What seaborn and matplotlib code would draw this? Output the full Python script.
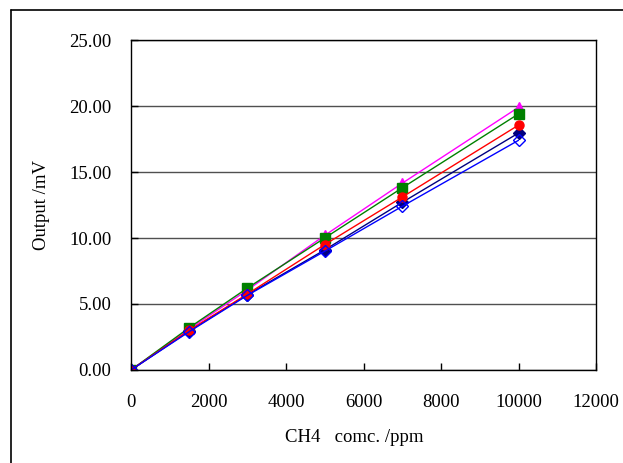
import numpy as np
import pandas as pd
import seaborn as sns
import matplotlib
matplotlib.use("Agg")
from matplotlib import pyplot as plt
from matplotlib.lines import Line2D

# CH4 concentration (ppm)
conc = [0, 1500, 3000, 5000, 7000, 10000]

# sensor outputs (mV)
out_magenta = [0.0, 3.10, 6.05, 10.20, 14.15, 19.90]
out_green = [0.0, 3.20, 6.20, 10.00, 13.80, 19.40]
out_navy = [0.0, 2.95, 5.70, 9.10, 12.70, 17.95]
out_red = [0.0, 3.00, 5.75, 9.50, 13.10, 18.55]
out_blue = [0.0, 2.90, 5.65, 9.00, 12.40, 17.40]

series = [
    ("s1", out_magenta, "#FF00FF", "^", "#FF00FF"),
    ("s2", out_green, "#008000", "s", "#008000"),
    ("s3", out_navy, "#000080", "D", "#000080"),
    ("s4", out_red, "#FF0000", "o", "#FF0000"),
    ("s5", out_blue, "#0000FF", "D", "none"),
]

sns.set_style("white")
plt.rcParams['font.family'] = ['Liberation Serif', 'DejaVu Serif']
plt.rcParams['text.color'] = 'black'
plt.rcParams['axes.labelcolor'] = 'black'

fig = plt.figure(figsize=(6.23, 4.63), dpi=100)
ax = fig.add_axes([131 / 623, 1 - 370 / 463, (596 - 131) / 623, (370 - 40) / 463])

for name, vals, col, mk, fc in series:
    df = pd.DataFrame({"x": conc, "y": vals})
    sns.lineplot(data=df, x="x", y="y", ax=ax, color=col, linewidth=1.0,
                 marker=mk, markersize=6.5, markerfacecolor=fc,
                 markeredgecolor=col, markeredgewidth=1.0)

ax.set_xlim(0, 12000)
ax.set_ylim(0, 25)
ax.set_xticks(np.arange(0, 12001, 2000))
ax.set_yticks(np.arange(0, 25.01, 5))
ax.set_yticklabels([f"{v:.2f}" for v in np.arange(0, 25.01, 5)])
ax.yaxis.grid(True, color="#505050", linewidth=1.0)
ax.set_axisbelow(True)
ax.tick_params(axis="both", direction="in", length=5, width=1, colors="black",
               labelsize=13.5, left=True, bottom=True)
ax.tick_params(axis="x", pad=17)
ax.tick_params(axis="y", pad=14)
for sp in ax.spines.values():
    sp.set_color("black")
    sp.set_linewidth(1.0)
ax.set_xlabel("")
ax.set_ylabel("Output /mV", fontsize=13.5, labelpad=14)
fig.text(354 / 623, 1 - 437 / 463, "CH4   comc. /ppm", ha="center", va="center", fontsize=13.5)

# outer chart frame
fig.add_artist(Line2D([11 / 623, 11 / 623], [0, 1 - 10 / 463], color="black", linewidth=1.2, transform=fig.transFigure))
fig.add_artist(Line2D([11 / 623, 1], [1 - 10 / 463, 1 - 10 / 463], color="black", linewidth=1.2, transform=fig.transFigure))

fig.savefig("out.png", dpi=100)
